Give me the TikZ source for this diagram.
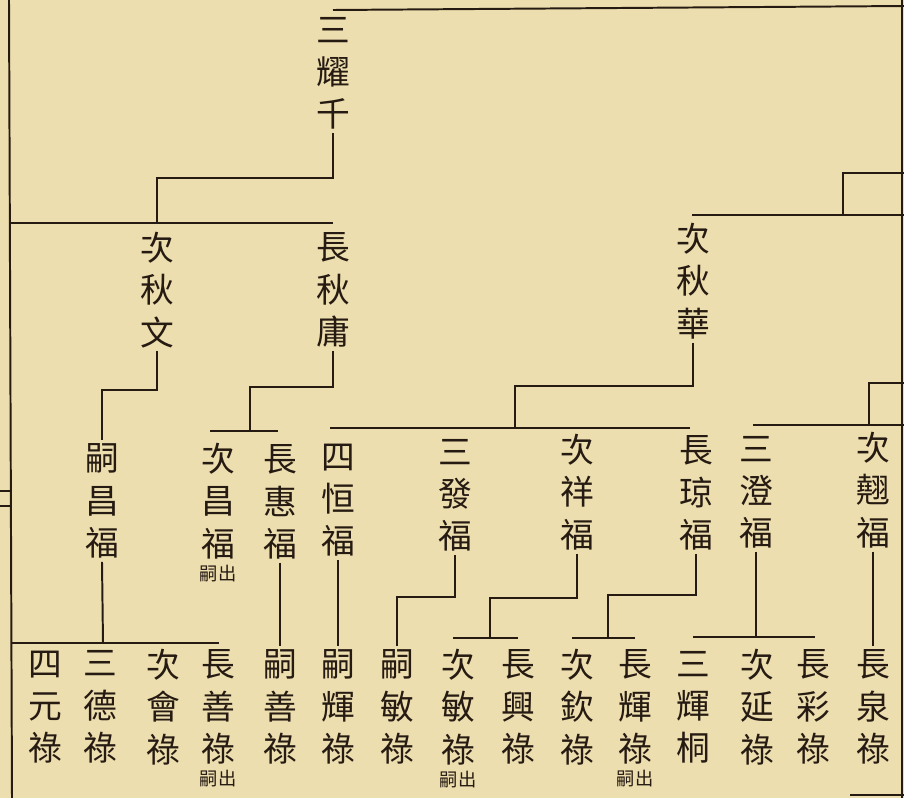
\documentclass[tikz,border=0pt]{standalone}
\usepackage{fontspec}
\newfontfamily\cjk{Noto Sans CJK TC}
\definecolor{paper}{RGB}{237,222,175}
\definecolor{ink}{RGB}{38,27,18}
\begin{document}
\begin{tikzpicture}[x=0.025cm, y=-0.025cm, color=ink, line width=1.4pt, line join=miter,
	person/.style={font=\cjk\fontsize{24}{30}\selectfont, align=center, inner sep=2pt},
	note/.style={font=\cjk\fontsize{13}{13}\selectfont, inner sep=1pt}]
	\fill[paper] (0,0) rectangle (904,798);
	\useasboundingbox (0,0) rectangle (904,798);
	% page rules
	\draw (9,0) -- (12,798);
	\draw (902,0) -- (902,798);
	\draw (333,10) -- (904,6);
	\draw (0,491) -- (10,491);
	\draw (0,506) -- (10,506);
	\draw (850,795) -- (904,795);
	% generation 1 and 2
	\node[person] (yaoqian) at (333,73) {三\\耀\\千};
	\node[person] (qiuwen) at (157,290) {次\\秋\\文};
	\node[person] (qiuyong) at (333,290) {長\\秋\\庸};
	\node[person] (qiuhua) at (693,281) {次\\秋\\華};
	% generation 3
	\node[person] (sichang) at (102,501) {嗣\\昌\\福};
	\node[person, label={[note]below:嗣出}] (cichang) at (218,501) {次\\昌\\福};
	\node[person] (huifu) at (280,502) {長\\惠\\福};
	\node[person] (hengfu) at (338,500) {四\\恒\\福};
	\node[person] (fafu) at (455,495) {三\\發\\福};
	\node[person] (xiangfu) at (577,492) {次\\祥\\福};
	\node[person] (qiongfu) at (696,493) {長\\琼\\福};
	\node[person] (dengfu) at (756,492) {三\\澄\\福};
	\node[person] (qiaofu) at (873,490) {次\\翹\\福};
	% generation 4
	\node[person] (yuanlu) at (45,707) {四\\元\\祿};
	\node[person] (delu) at (100,707) {三\\德\\祿};
	\node[person] (huilu) at (163,707) {次\\會\\祿};
	\node[person, label={[note]below:嗣出}] (shanlu) at (218,707) {長\\善\\祿};
	\node[person] (sishan) at (280,707) {嗣\\善\\祿};
	\node[person] (sihui) at (338,707) {嗣\\輝\\祿};
	\node[person] (simin) at (397,707) {嗣\\敏\\祿};
	\node[person, label={[note]below:嗣出}] (cimin) at (458,707) {次\\敏\\祿};
	\node[person] (xinglu) at (518,707) {長\\興\\祿};
	\node[person] (qinlu) at (577,707) {次\\欽\\祿};
	\node[person, label={[note]below:嗣出}] (changhui) at (635,707) {長\\輝\\祿};
	\node[person] (huitong) at (693,707) {三\\輝\\桐};
	\node[person] (yanlu) at (757,707) {次\\延\\祿};
	\node[person] (cailu) at (813,707) {長\\彩\\祿};
	\node[person] (quanlu) at (873,707) {長\\泉\\祿};
	% sibling bars
	\coordinate (barA) at (157,223);
	\coordinate (barB) at (250,431);
	\coordinate (barC) at (515,428);
	\coordinate (barD) at (103,643);
	\coordinate (barE) at (490,638);
	\coordinate (barF) at (608,638);
	\coordinate (barG) at (756,637);
	\draw (9,223) -- (333,223);
	\draw (210,431) -- (278,431);
	\draw (330,428) -- (690,428);
	\draw (753,425) -- (904,425);
	\draw (692,215) -- (904,215);
	\draw (12,643) -- (219,643);
	\draw (453,638) -- (518,638);
	\draw (572,638) -- (635,638);
	\draw (693,637) -- (815,637);
	% lines to parents off the page
	\draw (843,215) |- (904,173);
	\draw (869,425) |- (904,383);
	% descent lines
	\draw (yaoqian.south) -- ++(0,45) -| (barA);
	\draw (qiuwen.south) -- ++(0,39) -| (sichang.north);
	\draw (qiuyong.south) -- ++(0,36) -| (barB);
	\draw (qiuhua.south) -- ++(0,43) -| (barC);
	\draw (sichang.south) -- (barD);
	\draw (huifu.south) -- (sishan.north);
	\draw (hengfu.south) -- (sihui.north);
	\draw (fafu.south) -- ++(0,42) -| (simin.north);
	\draw (xiangfu.south) -- ++(0,44) -| (barE);
	\draw (qiongfu.south) -- ++(0,41) -| (barF);
	\draw (dengfu.south) -- (barG);
	\draw (qiaofu.south) -- (quanlu.north);
\end{tikzpicture}
\end{document}
